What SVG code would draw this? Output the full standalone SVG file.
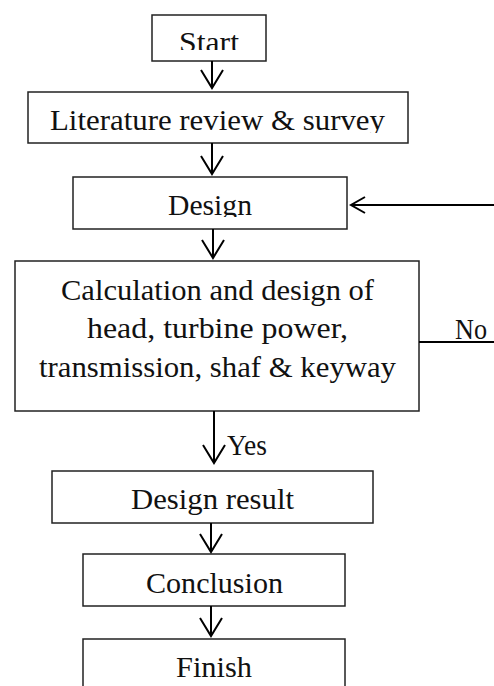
<svg xmlns="http://www.w3.org/2000/svg" width="494" height="686" viewBox="0 0 494 686">
<style>
.box{fill:#fff;stroke:#222;stroke-width:1.5}
.t{font-family:"Liberation Serif","Times New Roman",serif;font-size:29px;fill:#111}
.ln{fill:none;stroke:#000;stroke-width:2}
</style>
<defs>
<clipPath id="cs"><rect x="150" y="14" width="120" height="36"/></clipPath>
<clipPath id="cl"><rect x="26" y="90" width="384" height="43"/></clipPath>
<clipPath id="cd"><rect x="71" y="175" width="278" height="42"/></clipPath>
</defs>
<rect width="494" height="686" fill="#fff"/>
<g id="start">
<rect class="box" x="152" y="15" width="114" height="46"/>
<text class="t" x="179" y="52" textLength="60" lengthAdjust="spacingAndGlyphs" clip-path="url(#cs)">Start</text>
</g>
<g id="literature">
<rect class="box" x="28" y="92" width="380" height="51"/>
<text class="t" x="50" y="130" textLength="335" lengthAdjust="spacingAndGlyphs" clip-path="url(#cl)">Literature review &amp; survey</text>
</g>
<g id="design">
<rect class="box" x="73" y="177" width="274" height="52"/>
<text class="t" x="168" y="215" textLength="84" lengthAdjust="spacingAndGlyphs" clip-path="url(#cd)">Design</text>
</g>
<g id="calculation">
<rect class="box" x="15" y="261" width="404" height="150"/>
<text class="t" x="61" y="300" textLength="313" lengthAdjust="spacingAndGlyphs">Calculation and design of</text>
<text class="t" x="87" y="338" textLength="261" lengthAdjust="spacingAndGlyphs">head, turbine power,</text>
<text class="t" x="39" y="377" textLength="357" lengthAdjust="spacingAndGlyphs">transmission, shaf &amp; keyway</text>
</g>
<g id="design-result">
<rect class="box" x="52" y="471" width="321" height="52"/>
<text class="t" x="131" y="509" textLength="163" lengthAdjust="spacingAndGlyphs">Design result</text>
</g>
<g id="conclusion">
<rect class="box" x="83" y="554" width="262" height="52"/>
<text class="t" x="146" y="593" textLength="137" lengthAdjust="spacingAndGlyphs">Conclusion</text>
</g>
<g id="finish">
<rect class="box" x="83" y="639" width="262" height="60"/>
<text class="t" x="176" y="677" textLength="76" lengthAdjust="spacingAndGlyphs">Finish</text>
</g>
<g id="connectors">
<path class="ln" d="M212 61V88M201 70L212 88L223 70"/>
<path class="ln" d="M212 143V174M201 156L212 174L223 156"/>
<path class="ln" d="M213 229V258M202 240L213 258L224 240"/>
<path class="ln" d="M214 411V463M203 445L214 463L225 445"/>
<path class="ln" d="M211 523V552M200 534L211 552L222 534"/>
<path class="ln" d="M211 606V636M200 618L211 636L222 618"/>
<path class="ln" d="M419 342H494"/>
<path class="ln" d="M494 205H351M365 197L351 205L365 213"/>
<text class="t" x="227" y="455" textLength="40" lengthAdjust="spacingAndGlyphs">Yes</text>
<text class="t" x="455" y="339" textLength="32" lengthAdjust="spacingAndGlyphs">No</text>
</g>
</svg>
